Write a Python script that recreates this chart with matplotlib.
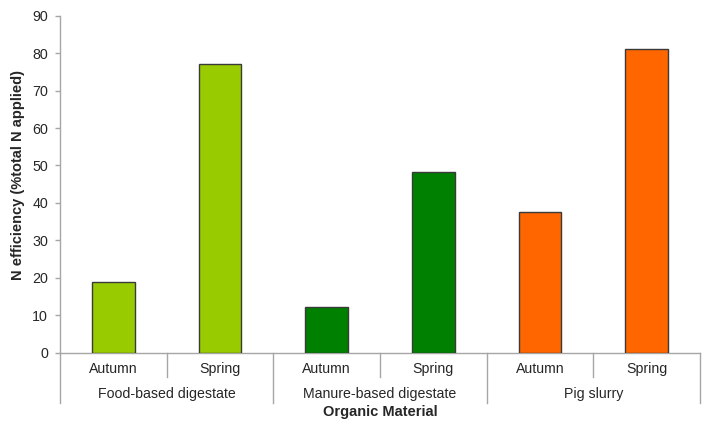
import matplotlib.pyplot as plt
import matplotlib.transforms as mtransforms

plt.rcParams['font.family'] = ['Liberation Sans', 'DejaVu Sans']

materials = ["Food-based digestate", "Manure-based digestate", "Pig slurry"]
seasons = ["Autumn", "Spring"]
efficiency = [18.8, 77.2, 12.1, 48.3, 37.5, 81.2]  # Autumn, Spring per material
material_colors = ["#99CC00", "#008000", "#FF6600"]

axis_grey = "#A6A6A6"
text_col = "#262626"

fig = plt.figure(figsize=(7.05, 4.25), dpi=100)
ax = fig.add_axes([60 / 705, (425 - 352.7) / 425, 640 / 705, 337 / 425])

x = list(range(len(efficiency)))
bar_colors = [material_colors[i // 2] for i in x]
ax.bar(x, efficiency, width=0.4, color=bar_colors, edgecolor="#3A3A3A", linewidth=1.0, zorder=3)

ax.set_xlim(-0.5, len(efficiency) - 0.5)
ax.set_ylim(0, 90)
ax.set_yticks(range(0, 91, 10))
ax.tick_params(axis="y", length=3.6, width=1, color=axis_grey, labelsize=10.3, labelcolor=text_col, pad=5)
ax.set_xticks([])

for side in ("top", "right"):
    ax.spines[side].set_visible(False)
for side in ("left", "bottom"):
    ax.spines[side].set_color(axis_grey)
    ax.spines[side].set_linewidth(1)

# two-level category axis below the plot
trans = mtransforms.blended_transform_factory(ax.transData, ax.transAxes)
inner_y, group_y = -0.072, -0.148
for i in x:
    ax.text(i, -0.048, seasons[i % 2], transform=trans, ha="center", va="center",
            fontsize=10.2, color=text_col)
for g, name in enumerate(materials):
    ax.text(2 * g + 0.5, -0.122, name, transform=trans, ha="center", va="center",
            fontsize=10.2, color=text_col)
for g in range(len(materials)):
    ax.plot([2 * g + 0.5] * 2, [0, inner_y], transform=trans, color=axis_grey, lw=1, clip_on=False)
for b in range(len(materials) + 1):
    ax.plot([2 * b - 0.5] * 2, [0, group_y], transform=trans, color=axis_grey, lw=1, clip_on=False)

ax.text(2.5, -0.175, "Organic Material", transform=trans, ha="center", va="center",
        fontsize=10.5, fontweight="bold", color=text_col)
fig.text(18 / 705, (425 - 175) / 425, "N efficiency (%total N applied)", rotation=90,
         ha="center", va="center", fontsize=10.5, fontweight="bold", color=text_col)

fig.savefig("out.png", dpi=100, facecolor="white")
